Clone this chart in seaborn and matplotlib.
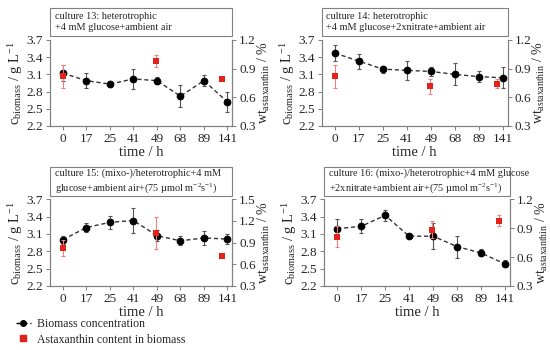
import numpy as np
import pandas as pd
import matplotlib
matplotlib.use("Agg")
import matplotlib.pyplot as plt
import seaborn as sns
from matplotlib.lines import Line2D
from matplotlib.patches import Rectangle

times = ["0", "17", "25", "41", "49", "68", "89", "141"]
asta_times = ["0", "49", "141"]

titles = [
    "culture 13: heterotrophic\n+4 mM glucose+ambient air",
    "culture 14: heterotrophic\n+4 mM glucose+2xnitrate+ambient air",
    "culture 15: (mixo-)/heterotrophic+4 mM\nglucose+ambient air+(75 µmol m$^{-2}$s$^{-1}$)",
    "culture 16: (mixo-)/heterotrophic+4 mM glucose\n+2xnitrate+ambient air+(75 µmol m$^{-2}$s$^{-1}$)",
]

biomass_13 = [3.12, 2.99, 2.93, 3.02, 2.99, 2.72, 2.99, 2.62]
biomass_13_err = [0.14, 0.13, 0.05, 0.17, 0.06, 0.19, 0.10, 0.18]
biomass_14 = [3.47, 3.33, 3.19, 3.17, 3.15, 3.10, 3.06, 3.04]
biomass_14_err = [0.14, 0.13, 0.06, 0.17, 0.08, 0.19, 0.10, 0.18]
biomass_15 = [3.00, 3.21, 3.30, 3.33, 3.07, 2.98, 3.03, 3.01]
biomass_15_err = [0.07, 0.08, 0.11, 0.22, 0.10, 0.08, 0.12, 0.08]
biomass_16 = [3.19, 3.23, 3.42, 3.06, 3.06, 2.88, 2.77, 2.58]
biomass_16_err = [0.17, 0.12, 0.10, 0.02, 0.23, 0.19, 0.06, 0.06]

asta_13 = [0.822, 0.978, 0.792]
asta_13_err = [0.12, 0.06, 0.02]
asta_14 = [0.822, 0.714, 0.744]
asta_14_err = [0.12, 0.08, 0.05]
asta_15 = [0.820, 1.028, 0.716]
asta_15_err = [0.11, 0.22, 0.03]
asta_16 = [0.810, 0.882, 0.978]
asta_16_err = [0.11, 0.09, 0.06]

biomass = [biomass_13, biomass_14, biomass_15, biomass_16]
biomass_err = [biomass_13_err, biomass_14_err, biomass_15_err, biomass_16_err]
asta = [asta_13, asta_14, asta_15, asta_16]
asta_err = [asta_13_err, asta_14_err, asta_15_err, asta_16_err]
right_max = [1.2, 1.2, 1.5, 1.2]

sns.set_style("white")
plt.rcParams["font.family"] = ["Liberation Serif", "DejaVu Serif"]
plt.rcParams["mathtext.fontset"] = "custom"
plt.rcParams["mathtext.rm"] = "Liberation Serif"
plt.rcParams["mathtext.it"] = "Liberation Serif:italic"

fig = plt.figure(figsize=(5.5, 3.5), dpi=100)
positions = [
    [0.091, 0.640, 0.331, 0.246],
    [0.585, 0.640, 0.338, 0.246],
    [0.091, 0.183, 0.331, 0.248],
    [0.589, 0.183, 0.338, 0.248],
]

red = "#e2231a"
spine_col = "#808080"
# small horizontal nudge of the red squares, as in the original figure
nudge = {"0": 0.0, "49": -0.05, "141": -0.25}

for i in range(4):
    ax = fig.add_axes(positions[i])
    x = np.arange(len(times))
    df = pd.DataFrame({"x": x, "c": biomass[i]})
    ax.errorbar(x, biomass[i], yerr=biomass_err[i], fmt="none",
                ecolor="#555555", elinewidth=0.8, capsize=1.5, capthick=0.8, zorder=2)
    sns.lineplot(data=df, x="x", y="c", ax=ax, color="#333333", linestyle=(0, (3, 2)),
                 linewidth=1.0, marker="o", markersize=4.8, markeredgecolor="black",
                 markerfacecolor="black", zorder=3)
    ax.set_ylim(2.2, 3.7)
    ax.set_yticks([2.2, 2.5, 2.8, 3.1, 3.4, 3.7])
    ax.set_yticklabels(["2.2", "2.5", "2.8", "3.1", "3.4", "3.7"])
    ax.set_xlim(-0.55, 7.2)
    ax.set_xticks(x)
    ax.set_xticklabels(times)
    ax.set_xlabel("time / h", fontsize=10.5, labelpad=1)
    ax.set_ylabel(r"c$_{\mathrm{biomass}}$ / g L$^{-1}$", fontsize=10.5, labelpad=1)

    ax2 = ax.twinx()
    ax_pos = [times.index(t) + nudge[t] for t in asta_times]
    ax2.errorbar(ax_pos, asta[i], yerr=asta_err[i], fmt="none",
                 ecolor="#f08080", elinewidth=0.8, capsize=1.5, capthick=0.8, zorder=2)
    sdf = pd.DataFrame({"x": ax_pos, "a": asta[i]})
    sns.scatterplot(data=sdf, x="x", y="a", ax=ax2, marker="s", s=22, color=red,
                    edgecolor=red, linewidth=0, zorder=4)
    ax2.set_ylim(0.3, right_max[i])
    ticks = np.round(np.arange(0.3, right_max[i] + 0.01, 0.3), 1)
    ax2.set_yticks(ticks)
    ax2.set_yticklabels([f"{t:.1f}" for t in ticks])
    ax2.set_ylabel(r"wt$_{\mathrm{astaxanthin}}$ / %", fontsize=10, labelpad=0)
    ax2.set_xlim(-0.55, 7.2)

    for a in (ax, ax2):
        a.spines["top"].set_visible(False)
        for s in ("left", "right", "bottom"):
            a.spines[s].set_color(spine_col)
            a.spines[s].set_linewidth(0.8)
        a.tick_params(axis="both", labelsize=9.5, length=3, width=0.7,
                      color=spine_col, pad=2, direction="out")
    ax.tick_params(axis="y", left=True)
    ax.tick_params(axis="x", bottom=True)
    ax2.tick_params(axis="y", right=True)

    box = Rectangle((0, 1.04), 1, 0.33, transform=ax.transAxes, fill=False,
                    edgecolor=spine_col, linewidth=0.8, clip_on=False)
    ax.add_patch(box)
    ax.text(0.025, 1.205, titles[i], transform=ax.transAxes, fontsize=7.4,
            va="center", ha="left", linespacing=1.35)

handles = [
    Line2D([], [], color="black", linestyle=(0, (3, 2)), linewidth=1.0,
           marker="o", markersize=4),
    Line2D([], [], color=red, linestyle="none", marker="s", markersize=5),
]
fig.legend(handles, ["Biomass concentration", "Astaxanthin content in biomass"],
           loc="upper left", bbox_to_anchor=(0.02, 0.105), frameon=False,
           fontsize=8.5, handlelength=1.3, handletextpad=0.5, labelspacing=0.3,
           borderaxespad=0)

fig.savefig("out.png", dpi=100)
